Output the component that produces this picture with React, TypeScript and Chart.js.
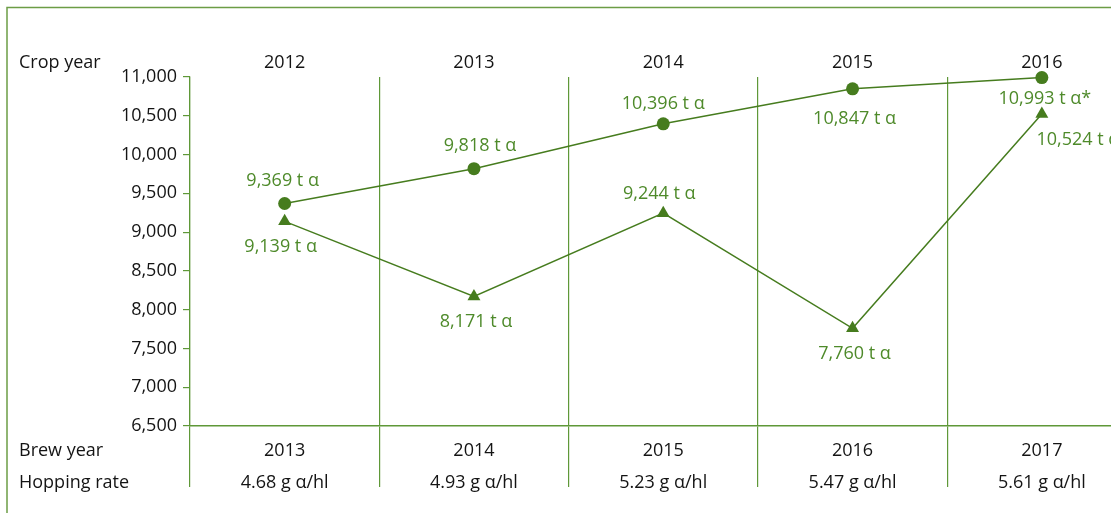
import React, { useEffect, useRef } from "react";
import { Chart, registerables } from "chart.js";

Chart.register(...registerables);

// ---- data ----
const cropYears = ["2012", "2013", "2014", "2015", "2016"];
const brewYears = ["2013", "2014", "2015", "2016", "2017"];
const hoppingRates = ["4.68 g α/hl", "4.93 g α/hl", "5.23 g α/hl", "5.47 g α/hl", "5.61 g α/hl"];
const cropAlpha = [9369, 9818, 10396, 10847, 10993];
const demandAlpha = [9139, 8171, 9244, 7760, 10524];
const cropAlphaNotes = ["", "", "", "", "*"];
const demandAlphaNotes = ["", "", "", "", ""];
const yMin = 6500;
const yMax = 11000;
const yStep = 500;
const rowTitles = ["Crop year", "Brew year", "Hopping rate"];

// ---- styling ----
const LINE = "#467c1e";
const LABEL = "#4e8a2a";
const GRID = "#5f9838";
const FRAME = "#6c9d46";
const TEXT = "#141414";
const FONT = "'Open Sans', 'Noto Sans', sans-serif";
const FS = 18;

// label offsets relative to the marker (px)
const cropLabelOffsets = [[-2, -23], [6, -23], [0, -20], [2, 30], [3, 21]];
const demandLabelOffsets = [[-4, 26], [2, 25], [-4, -19], [2, 26], [36, 26]];

const fmt = (v: number) => v.toLocaleString("en-US");

const customPlugin = {
  id: "customDecor",
  beforeDraw(chart: any) {
    const ctx = chart.ctx;
    ctx.save();
    ctx.fillStyle = "#ffffff";
    ctx.fillRect(0, 0, chart.width, chart.height);
    ctx.strokeStyle = FRAME;
    ctx.lineWidth = 1.5;
    ctx.strokeRect(7, 7.5, chart.width + 40, chart.height + 40);
    ctx.restore();
  },
  afterDatasetsDraw(chart: any) {
    const ctx = chart.ctx;
    ctx.save();
    ctx.font = `${FS}px ${FONT}`;
    ctx.fillStyle = LABEL;
    ctx.textAlign = "center";
    ctx.textBaseline = "middle";
    const sets = [
      { values: cropAlpha, notes: cropAlphaNotes, offs: cropLabelOffsets },
      { values: demandAlpha, notes: demandAlphaNotes, offs: demandLabelOffsets },
    ];
    sets.forEach((s, di) => {
      const meta = chart.getDatasetMeta(di);
      meta.data.forEach((pt: any, i: number) => {
        const [dx, dy] = s.offs[i];
        ctx.fillText(`${fmt(s.values[i])} t α${s.notes[i]}`, pt.x + dx, pt.y + dy);
      });
    });
    ctx.restore();
  },
  afterDraw(chart: any) {
    const ctx = chart.ctx;
    ctx.save();
    ctx.font = `${FS}px ${FONT}`;
    ctx.fillStyle = TEXT;
    ctx.textAlign = "left";
    ctx.textBaseline = "middle";
    const ys = [63, 451, 483];
    rowTitles.forEach((t, i) => ctx.fillText(t, 19, ys[i]));
    ctx.restore();
  },
};

export default function App() {
  const ref = useRef<HTMLCanvasElement | null>(null);

  useEffect(() => {
    if (!ref.current) return;
    const chart = new Chart(ref.current, {
      type: "line",
      data: {
        labels: cropYears,
        datasets: [
          {
            data: cropAlpha,
            borderColor: LINE,
            backgroundColor: LINE,
            borderWidth: 1.5,
            pointStyle: "circle",
            pointRadius: 6.5,
            pointBorderWidth: 0,
            clip: false,
            xAxisID: "x",
          },
          {
            data: demandAlpha,
            borderColor: LINE,
            backgroundColor: LINE,
            borderWidth: 1.5,
            pointStyle: "triangle",
            pointRadius: 7.5,
            pointBorderWidth: 0,
            clip: false,
            xAxisID: "x",
          },
        ],
      },
      options: {
        responsive: false,
        animation: false,
        devicePixelRatio: 1,
        layout: { padding: 0 },
        plugins: { legend: { display: false }, tooltip: { enabled: false } },
        scales: {
          x: {
            type: "category",
            position: "bottom",
            offset: true,
            labels: brewYears.map((b, i) => [b, hoppingRates[i]]),
            grid: {
              display: true,
              offset: true,
              drawOnChartArea: true,
              drawTicks: true,
              tickLength: 61,
              color: GRID,
              lineWidth: 1.2,
            },
            border: { display: true, color: GRID, width: 1.5 },
            ticks: {
              color: TEXT,
              font: { family: FONT, size: FS, lineHeight: "32px" },
              padding: -52,
              maxRotation: 0,
              autoSkip: false,
            },
            afterFit: (s: any) => {
              s.height = 87;
            },
          },
          xTop: {
            type: "category",
            position: "top",
            offset: true,
            labels: cropYears,
            grid: { display: false },
            border: { display: false },
            ticks: {
              color: TEXT,
              font: { family: FONT, size: FS },
              padding: -5,
              maxRotation: 0,
              autoSkip: false,
            },
            afterFit: (s: any) => {
              s.height = 77;
            },
          },
          y: {
            type: "linear",
            min: yMin,
            max: yMax,
            ticks: {
              stepSize: yStep,
              color: TEXT,
              font: { family: FONT, size: FS },
              padding: 6,
              callback: (v: any) => fmt(Number(v)),
            },
            grid: {
              display: true,
              drawOnChartArea: false,
              drawTicks: true,
              tickLength: 7,
              color: GRID,
              lineWidth: 1.2,
            },
            border: { display: true, color: GRID, width: 1.2 },
            afterFit: (s: any) => {
              s.width = 190;
            },
          },
        },
      },
      plugins: [customPlugin],
    } as any);
    return () => chart.destroy();
  }, []);

  return (
    <div
      style={{
        position: "fixed",
        left: 0,
        top: 0,
        width: 1111,
        height: 513,
        overflow: "hidden",
        background: "#fff",
      }}
    >
      <canvas ref={ref} width={1144} height={513} style={{ display: "block", width: 1144, height: 513 }} />
    </div>
  );
}
